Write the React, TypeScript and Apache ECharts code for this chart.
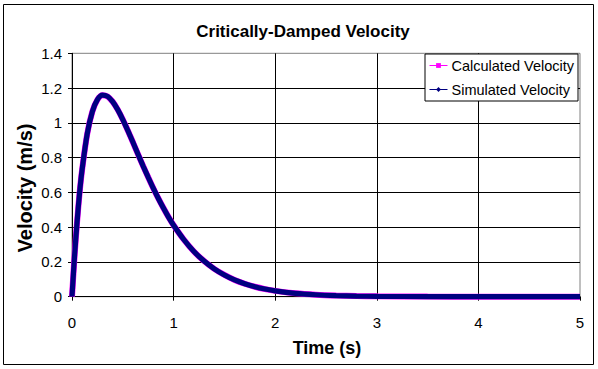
import React, { useEffect, useRef } from "react";
import * as echarts from "echarts";

const timeValues = [
  0, 0.025, 0.05, 0.075, 0.1, 0.15, 0.2, 0.25, 0.3, 0.35, 0.4, 0.45, 0.5, 0.55, 0.6,
  0.65, 0.7, 0.75, 0.8, 0.85, 0.9, 0.95, 1.0, 1.1, 1.2, 1.3, 1.4, 1.5, 1.6, 1.7,
  1.8, 1.9, 2.0, 2.2, 2.4, 2.6, 2.8, 3.0, 3.5, 4.0, 4.5, 5.0,
];
const calculatedVelocity = [
  0, 0.233, 0.43, 0.6, 0.733, 0.937, 1.064, 1.133, 1.159, 1.152, 1.122, 1.076, 1.019,
  0.955, 0.888, 0.819, 0.752, 0.687, 0.624, 0.565, 0.51, 0.458, 0.411, 0.329, 0.26,
  0.205, 0.16, 0.125, 0.0965, 0.0744, 0.0572, 0.0439, 0.0335, 0.0194, 0.0112, 0.0064,
  0.0036, 0.002, 0.0005, 0.0001, 0.0, 0.0,
];
const simulatedVelocity = [
  0, 0.233, 0.43, 0.6, 0.733, 0.937, 1.064, 1.133, 1.159, 1.152, 1.122, 1.076, 1.019,
  0.955, 0.888, 0.819, 0.752, 0.687, 0.624, 0.565, 0.51, 0.458, 0.411, 0.329, 0.26,
  0.205, 0.16, 0.125, 0.0965, 0.0744, 0.0572, 0.0439, 0.0335, 0.0194, 0.0112, 0.0064,
  0.0036, 0.002, 0.0005, 0.0001, 0.0, 0.0,
];
const seriesNames = ["Calculated Velocity", "Simulated Velocity"];
const chartTitle = "Critically-Damped Velocity";
const xTitle = "Time (s)";
const yTitle = "Velocity (m/s)";

const FONT = "'Liberation Sans', Arial, sans-serif";

export default function App() {
  const ref = useRef<HTMLDivElement>(null);
  useEffect(() => {
    if (!ref.current) return;
    const chart = echarts.init(ref.current, null, { renderer: "svg" });
    const calcData = timeValues.map((t, i) => [t, calculatedVelocity[i]]);
    const simData = timeValues.map((t, i) => [t, simulatedVelocity[i]]);
    chart.setOption({
      animation: false,
      backgroundColor: "#ffffff",
      grid: {
        left: 72,
        right: 18,
        top: 53.3,
        bottom: 72.3,
        show: true,
        borderColor: "#808080",
        borderWidth: 1,
        backgroundColor: "transparent",
      },
      xAxis: {
        type: "value",
        min: 0,
        max: 5,
        interval: 1,
        axisLine: { show: true, onZero: false, lineStyle: { color: "#000", width: 1 } },
        axisTick: { show: true, inside: false, length: 4, lineStyle: { color: "#000" } },
        axisLabel: { color: "#000", fontSize: 15, fontFamily: FONT, margin: 18 },
        splitLine: { show: true, showMaxLine: false, lineStyle: { color: "#000", width: 1 } },
      },
      yAxis: {
        type: "value",
        min: 0,
        max: 1.4,
        interval: 0.2,
        axisLine: { show: true, lineStyle: { color: "#000", width: 1 } },
        axisTick: { show: true, inside: false, length: 4, lineStyle: { color: "#000" } },
        axisLabel: { color: "#000", fontSize: 15, fontFamily: FONT, margin: 10 },
        splitLine: { show: true, showMaxLine: false, lineStyle: { color: "#000", width: 1 } },
      },
      legend: {
        orient: "vertical",
        left: 425,
        top: 54,
        padding: [4, 4, 4, 4],
        itemGap: 9,
        itemWidth: 18,
        itemHeight: 6,
        backgroundColor: "#fff",
        borderColor: "#000",
        borderWidth: 1,
        borderRadius: 0,
        textStyle: { color: "#000", fontSize: 14.5, fontFamily: FONT, padding: [0, 0, 0, -1] },
        lineStyle: { width: 1 },
        data: seriesNames,
      },
      series: [
        {
          name: seriesNames[0],
          type: "line",
          data: calcData,
          smooth: 0.3,
          clip: false,
          symbol: "rect",
          showSymbol: false,
          itemStyle: { color: "#ff00ff" },
          lineStyle: { color: "#ff00ff", width: 6 },
          z: 5,
        },
        {
          name: seriesNames[1],
          type: "line",
          data: simData,
          smooth: 0.3,
          clip: false,
          symbol: "diamond",
          showSymbol: false,
          itemStyle: { color: "#000080" },
          lineStyle: { color: "#000080", width: 5.2 },
          z: 6,
        },
      ],
      graphic: [
        {
          type: "rect",
          shape: { x: 3.5, y: 4.5, width: 590, height: 360 },
          style: { fill: "none", stroke: "#000", lineWidth: 1 },
          silent: true,
        },
        {
          type: "text",
          x: 303,
          y: 31,
          style: {
            text: chartTitle,
            fontSize: 17,
            fontWeight: "bold",
            fontFamily: FONT,
            fill: "#000",
            align: "center",
            verticalAlign: "middle",
          },
        },
        {
          type: "text",
          x: 327,
          y: 348,
          style: {
            text: xTitle,
            fontSize: 18,
            fontWeight: "bold",
            fontFamily: FONT,
            fill: "#000",
            align: "center",
            verticalAlign: "middle",
          },
        },
        {
          type: "text",
          x: 25,
          y: 188,
          rotation: Math.PI / 2,
          style: {
            text: yTitle,
            fontSize: 20,
            fontWeight: "bold",
            fontFamily: FONT,
            fill: "#000",
            align: "center",
            verticalAlign: "middle",
          },
        },
      ],
    });
    return () => chart.dispose();
  }, []);
  return (
    <div
      ref={ref}
      style={{ position: "fixed", left: 0, top: 0, width: 598, height: 369, background: "#fff" }}
    />
  );
}
